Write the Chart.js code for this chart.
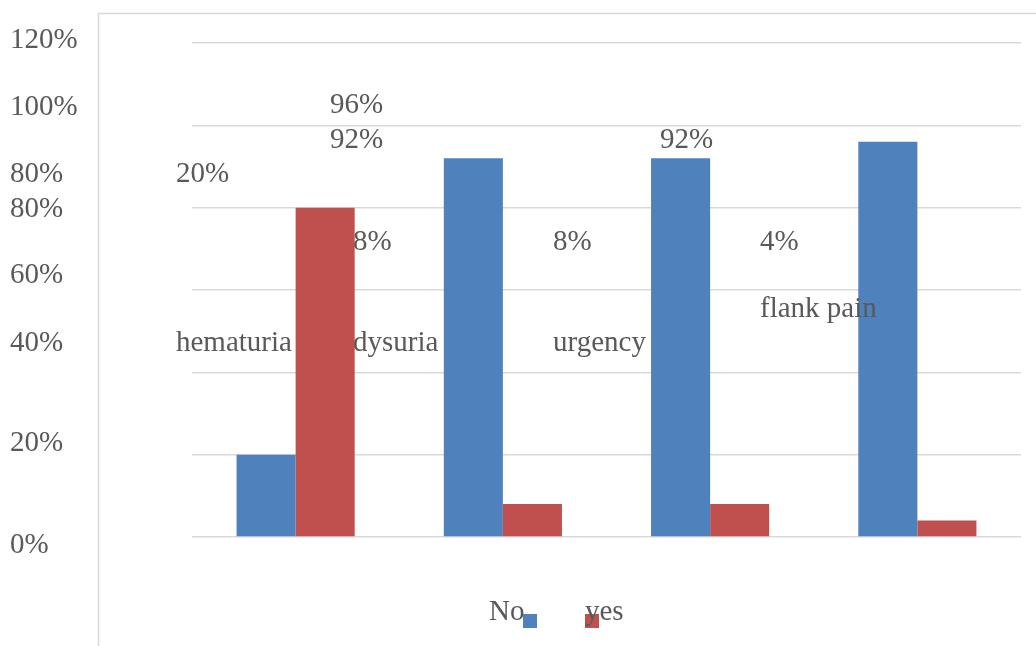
<!DOCTYPE html>
<html>
<head>
<meta charset="utf-8">
<script src="https://cdn.jsdelivr.net/npm/chart.js@4/dist/chart.umd.min.js"></script>
<style>
html,body{margin:0;padding:0;background:#fff;}
#wrap{width:1036px;height:646px;position:relative;}
</style>
</head>
<body>
<div id="wrap"><canvas id="c" width="1036" height="646"></canvas></div>
<script>
const categories = ["hematuria", "dysuria", "urgency", "flank pain"];
const noValues = [0.20, 0.92, 0.92, 0.96];
const yesValues = [0.80, 0.08, 0.08, 0.04];
const yTickLabels = ["120%", "100%", "80%", "80%", "60%", "40%", "20%", "0%"];
const seriesNames = ["No", "yes"];
const colors = ["#4f81bd", "#c0504d"];

const pct = v => Math.round(v * 100) + "%";
const FONT = '29px "Liberation Serif", "Times New Roman", serif';
const TEXT_COLOR = '#595959';
const DY = 2;

// Free-floating text labels as they appear in the reference
const floatingTexts = [
  [yTickLabels[0], 10, 38], [yTickLabels[1], 10, 105], [yTickLabels[2], 10, 172],
  [yTickLabels[3], 10, 207], [yTickLabels[4], 10, 273], [yTickLabels[5], 10, 341],
  [yTickLabels[6], 10, 441], [yTickLabels[7], 10, 543],
  [pct(noValues[0]), 176, 172],
  [pct(noValues[3]), 330, 103], [pct(noValues[1]), 330, 138], [pct(noValues[2]), 660, 138],
  [pct(yesValues[1]), 353, 240], [pct(yesValues[2]), 553, 240], [pct(yesValues[3]), 760, 240],
  [categories[0], 176, 341], [categories[1], 353, 341], [categories[2], 553, 341],
  [categories[3], 760, 307]
];

const decor = {
  id: 'decor',
  beforeDraw(chart) {
    const ctx = chart.ctx;
    ctx.save();
    ctx.strokeStyle = '#d9d9d9';
    ctx.lineWidth = 1.5;
    ctx.beginPath();
    ctx.moveTo(98.5, 646);
    ctx.lineTo(98.5, 13.5);
    ctx.lineTo(1036, 13.5);
    ctx.stroke();
    ctx.restore();
  },
  afterDraw(chart) {
    const ctx = chart.ctx;
    ctx.save();
    ctx.font = FONT;
    ctx.fillStyle = TEXT_COLOR;
    ctx.textBaseline = 'middle';
    ctx.textAlign = 'left';
    floatingTexts.forEach(([t, x, y]) => ctx.fillText(t, x, y + DY));
    // legend
    ctx.fillText(seriesNames[0], 489, 610 + DY);
    ctx.fillStyle = colors[0];
    ctx.fillRect(523, 614, 14, 14);
    ctx.fillStyle = colors[1];
    ctx.fillRect(585, 614, 14, 14);
    ctx.fillStyle = TEXT_COLOR;
    ctx.fillText(seriesNames[1], 585, 610 + DY);
    ctx.restore();
  }
};

new Chart(document.getElementById('c'), {
  type: 'bar',
  data: {
    labels: categories,
    datasets: [
      { label: seriesNames[0], data: noValues, backgroundColor: colors[0] },
      { label: seriesNames[1], data: yesValues, backgroundColor: colors[1] }
    ]
  },
  options: {
    responsive: false,
    animation: false,
    devicePixelRatio: 1,
    layout: { padding: { left: 0, right: 15, top: 43, bottom: 109 } },
    datasets: { bar: { categoryPercentage: 0.57, barPercentage: 1.0 } },
    plugins: { legend: { display: false }, tooltip: { enabled: false } },
    scales: {
      x: { display: false, grid: { display: false } },
      y: {
        min: 0, max: 1.2,
        ticks: { display: false, stepSize: 0.2 },
        grid: { color: '#d9d9d9', lineWidth: 1.5, drawTicks: false },
        border: { display: false },
        afterFit(s) { s.width = 192; }
      }
    }
  },
  plugins: [decor]
});
</script>
</body>
</html>
